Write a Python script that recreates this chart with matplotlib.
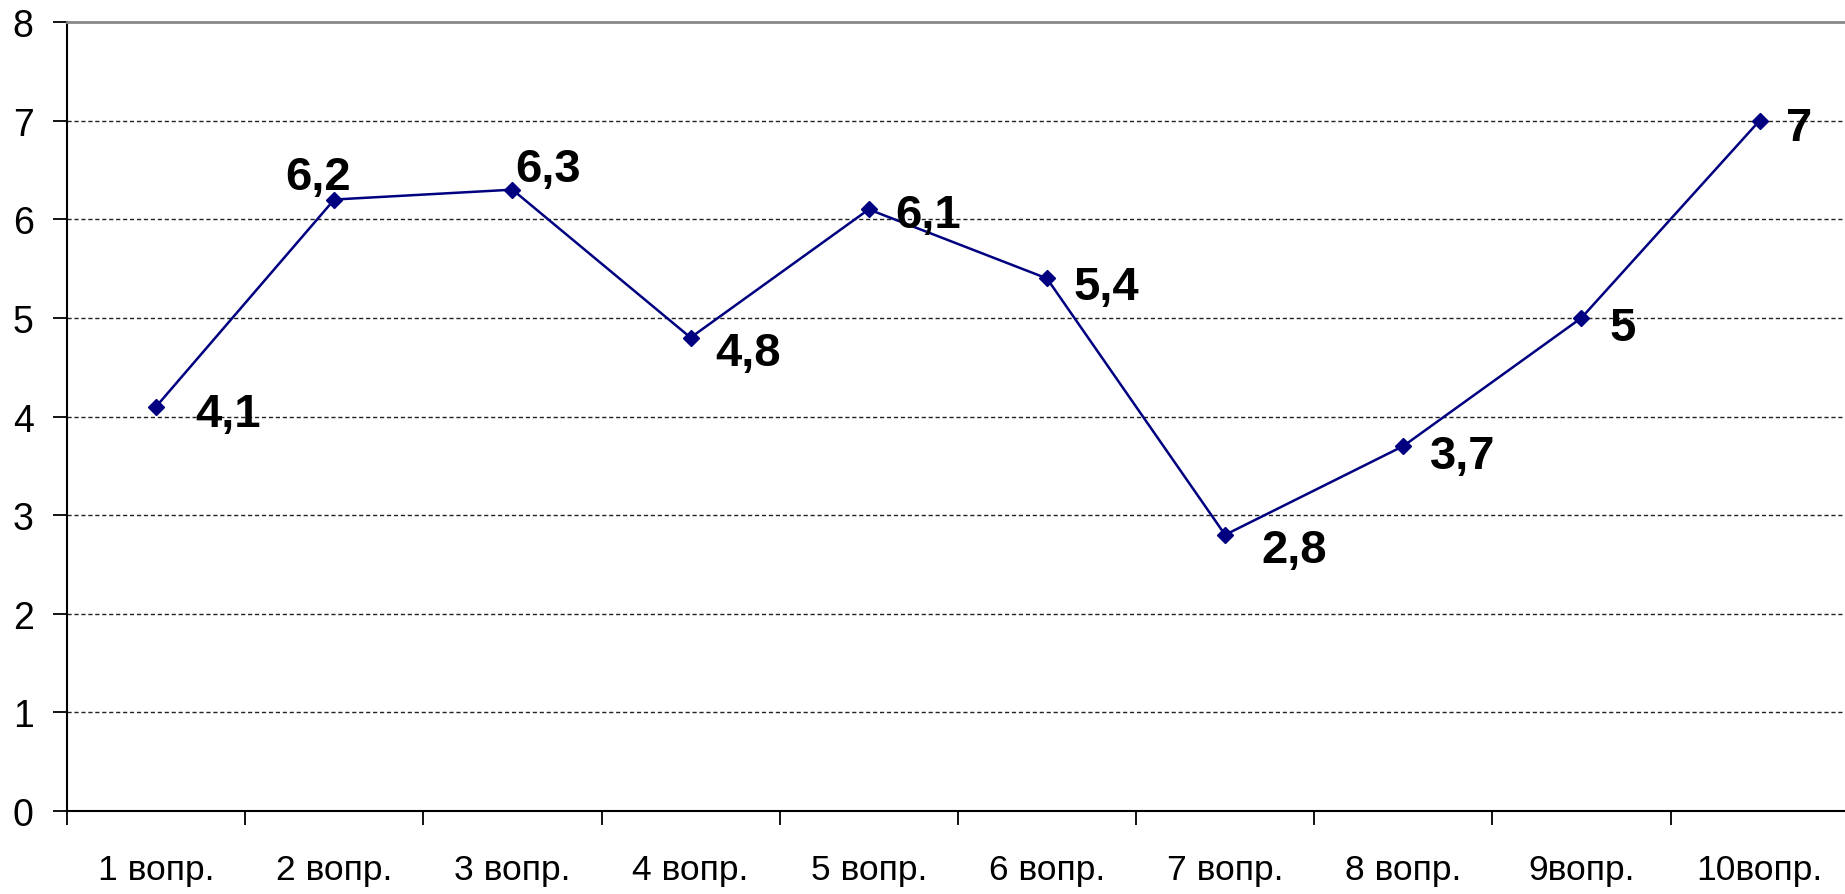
import matplotlib
matplotlib.use("Agg")
import matplotlib.pyplot as plt
from matplotlib.ticker import FixedLocator, NullFormatter

plt.rcParams['font.family'] = ['Liberation Sans', 'DejaVu Sans']

# data
categories = ['1 вопр.', '2 вопр.', '3 вопр.', '4 вопр.', '5 вопр.',
              '6 вопр.', '7 вопр.', '8 вопр.', '9вопр.', '10вопр.']
values = [4.1, 6.2, 6.3, 4.8, 6.1, 5.4, 2.8, 3.7, 5.0, 7.0]
value_labels = ['4,1', '6,2', '6,3', '4,8', '6,1', '5,4', '2,8', '3,7', '5', '7']

# label offsets in points (dx to left edge / centre, dy), hand placed like the original
label_offsets = [(28, -5), (-12, 16), (2, 15), (18, -11), (19, -4),
                 (19, -6), (26, -11), (19, -7), (20, -7), (19, -5)]
label_ha = ['left', 'center', 'left', 'left', 'left',
            'left', 'left', 'left', 'left', 'left']

fig = plt.figure(figsize=(18.45, 8.95), dpi=100)
ax = fig.add_axes([67 / 1845, 1 - 812 / 895, 1 - 67 / 1845 + 0.002, (812 - 23) / 895])

x = list(range(len(values)))
ax.plot(x, values, color='#000080', linewidth=1.8, marker='D', markersize=8.5,
        markerfacecolor='#000080', markeredgecolor='#000080', zorder=3)

for xi, v, lab, off, ha in zip(x, values, value_labels, label_offsets, label_ha):
    ax.annotate(lab, (xi, v), xytext=off, textcoords='offset points',
                ha=ha, va='center', fontsize=34, fontweight='bold', color='black')

ax.set_xlim(-0.5, len(values) - 0.5)
ax.set_ylim(0, 8)

# category ticks between the categories, labels at centres
ax.xaxis.set_major_locator(FixedLocator([i - 0.5 for i in range(len(values) + 1)]))
ax.xaxis.set_major_formatter(NullFormatter())
ax.xaxis.set_minor_locator(FixedLocator(x))
ax.set_xticklabels(categories, minor=True, fontsize=25.5)
ax.tick_params(axis='x', which='major', direction='out', length=10, width=1.3, color='black')
ax.tick_params(axis='x', which='minor', length=0, pad=30)

ax.set_yticks(range(0, 9))
ax.tick_params(axis='y', direction='out', length=10, width=1.3, labelsize=27, pad=14)

for y in range(1, 8):
    ax.axhline(y, color='#222222', linestyle=(0, (3, 2)), linewidth=1.0, zorder=1)

ax.spines['left'].set_linewidth(1.5)
ax.spines['bottom'].set_linewidth(1.5)
ax.spines['top'].set_color('#888888')
ax.spines['top'].set_linewidth(2)
ax.spines['right'].set_visible(False)

fig.savefig('out.png', dpi=100, facecolor='white')
